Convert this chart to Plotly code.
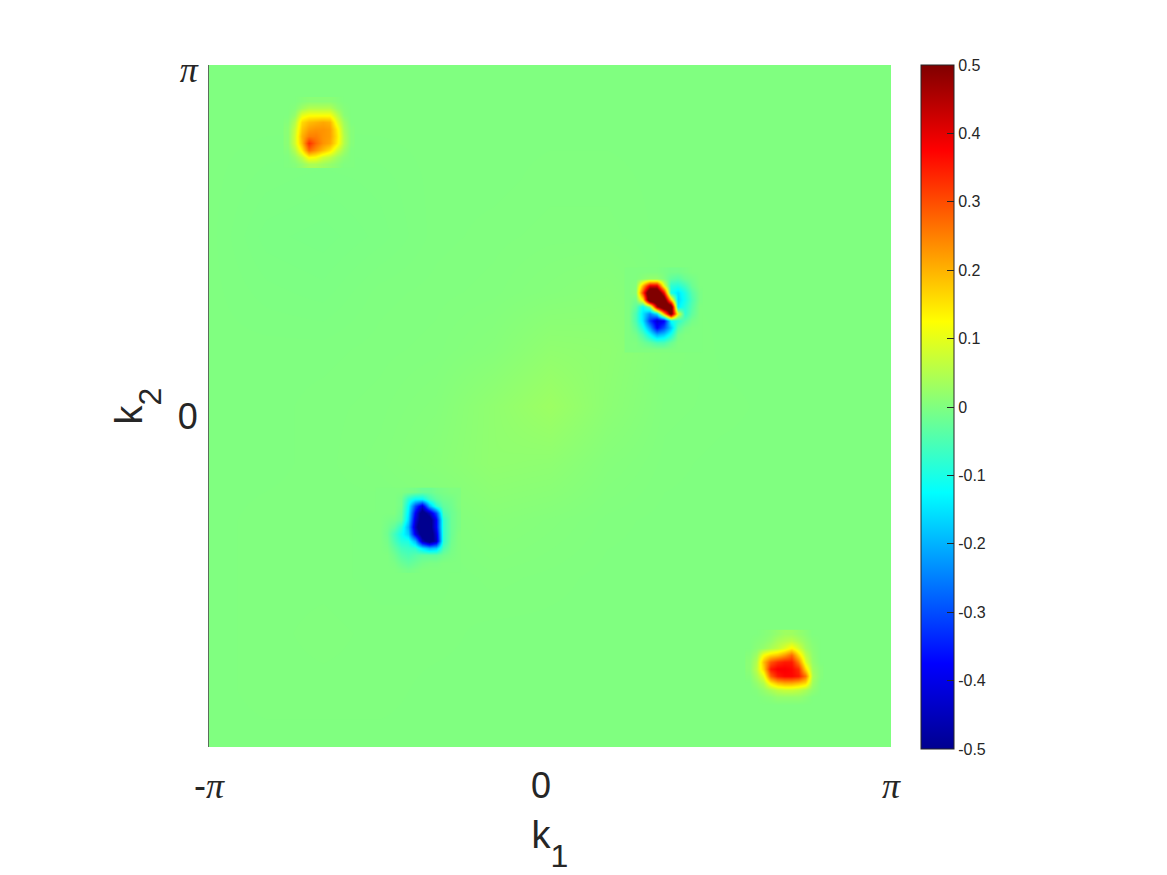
import numpy as np
import plotly.graph_objects as go

# Fine k-grid the local patches sit on (indices into this grid)
N_FINE = 97
BG_N = 13

# Coarse background field, rows listed top (k2=pi) to bottom (k2=-pi)
background = [
 [0,0,0,0,0,0,0,0,0,0,0,0,0],
 [0,0,0,0,0,0,0,0,0,0,0,0,0],
 [0,-.002,-.003,-.002,0,0,.001,.001,0,0,0,0,0],
 [0,-.004,-.005,-.003,0,.001,.002,.002,0,0,0,0,0],
 [0,-.002,-.003,0,.001,.002,.005,.008,0,0,0,0,0],
 [0,0,0,.001,.002,.006,.016,.014,.004,0,0,0,0],
 [0,0,.001,.002,.005,.016,.028,.012,.002,.001,0,0,0],
 [0,0,.001,.003,.008,.016,.014,.005,.001,0,0,0,0],
 [0,.001,.001,0,0,.007,.004,.001,0,0,0,0,0],
 [0,.001,.001,0,0,.002,.001,0,0,0,0,0,0],
 [0,.001,.002,.001,.001,0,0,0,0,0,0,0,0],
 [0,.001,.001,.001,0,0,0,0,0,0,0,0,0],
 [0,0,0,0,0,0,0,0,0,0,0,0,0],
]

# Local peaks: grid start index (column, top row) and values, top row first
patch_a_start = (11, 91)
patch_a = [
 [0,0,.005,.01,.01,.01,.01,.005,0,0],
 [0,.005,.03,.05,.05,.05,.05,.02,.005,0],
 [0,.02,.10,.12,.12,.12,.12,.06,.01,0],
 [.005,.05,.16,.19,.20,.21,.20,.10,.03,0],
 [.01,.07,.18,.22,.23,.23,.22,.14,.04,.005],
 [.01,.08,.20,.25,.25,.23,.22,.15,.05,.005],
 [.01,.08,.19,.33,.27,.23,.21,.14,.05,.005],
 [.005,.05,.14,.27,.23,.19,.15,.08,.03,0],
 [0,.02,.06,.13,.12,.08,.06,.03,.01,0],
 [0,.005,.02,.04,.04,.03,.02,.01,0,0],
]

patch_b_start = (59, 67)
patch_b = [
 [0,0,0,0,0,-.005,-.01,-.01,-.005,0,0],
 [0,0,.01,.02,.02,0,-.03,-.04,-.02,-.01,0],
 [0,.005,.2,.4,.4,.1,-.08,-.09,-.06,-.02,0],
 [0,.01,.32,.65,.65,.38,-.1,-.15,-.1,-.04,-.005],
 [0,-.01,.15,.65,.65,.6,.18,-.16,-.11,-.05,-.005],
 [0,-.03,-.12,0,.45,.65,.6,-.14,-.09,-.04,0],
 [0,-.05,-.15,-.24,-.15,.2,.55,.1,-.08,-.03,0],
 [0,-.05,-.15,-.32,-.42,-.38,-.12,-.08,-.04,-.01,0],
 [0,-.03,-.1,-.22,-.38,-.3,-.18,-.04,-.01,0,0],
 [0,-.01,-.05,-.12,-.2,-.17,-.1,-.01,0,0,0],
 [0,0,-.015,-.03,-.05,-.05,-.02,0,0,0,0],
 [0,0,0,0,0,0,0,0,0,0,0],
]

patch_c_start = (24, 36)
patch_c = [
 [0,0,0,0,-.005,-.01,-.02,-.02,-.01,-.005,0,0],
 [0,0,0,-.01,-.08,-.12,-.12,-.06,-.03,-.015,-.01,0],
 [0,0,0,-.01,-.12,-.3,-.42,-.2,-.08,-.03,-.015,0],
 [0,0,0,-.02,-.14,-.38,-.55,-.45,-.3,-.05,-.02,-.005],
 [0,-.005,-.01,-.03,-.16,-.42,-.55,-.55,-.38,-.08,-.02,-.005],
 [0,-.01,-.03,-.08,-.2,-.45,-.6,-.55,-.38,-.08,-.02,-.005],
 [0,-.015,-.06,-.11,-.17,-.4,-.55,-.58,-.42,-.08,-.02,0],
 [0,-.01,-.05,-.09,-.1,-.2,-.45,-.55,-.45,-.08,-.015,0],
 [0,-.005,-.03,-.06,-.07,-.08,-.15,-.2,-.18,-.05,-.01,0],
 [0,0,-.015,-.04,-.05,-.04,-.03,-.03,-.03,-.015,-.005,0],
 [0,0,-.005,-.02,-.03,-.02,-.01,-.005,-.005,0,0,0],
 [0,0,0,-.005,-.01,-.005,0,0,0,0,0,0],
]

patch_d_start = (76, 16)
patch_d = [
 [0,0,.005,.01,.02,.03,.03,.02,.01,0,0],
 [0,.005,.01,.02,.04,.05,.06,.04,.02,.005,0],
 [0,.01,.02,.04,.06,.09,.13,.08,.03,.01,0],
 [.005,.03,.12,.16,.18,.22,.27,.16,.06,.015,0],
 [.01,.05,.19,.29,.33,.35,.35,.25,.09,.02,0],
 [.01,.06,.17,.35,.38,.38,.37,.33,.16,.03,.005],
 [.005,.04,.1,.28,.35,.37,.37,.35,.26,.04,.005],
 [0,.02,.05,.14,.19,.21,.21,.19,.16,.03,0],
 [0,.005,.02,.04,.06,.07,.07,.06,.04,.015,0],
 [0,0,.005,.01,.02,.02,.02,.02,.01,0,0],
 [0,0,0,0,0,0,0,0,0,0,0],
]

cbar_ticks = [-.5,-.4,-.3,-.2,-.1,0,.1,.2,.3,.4,.5]
cbar_labels = ["-0.5","-0.4","-0.3","-0.2","-0.1","0","0.1","0.2","0.3","0.4","0.5"]
PI_LABEL = '<span style="font-family:\'Liberation Serif\'"><i>π</i></span>'
x_tick_vals = [-np.pi, -0.083, np.pi]
x_tick_text = ['-' + PI_LABEL, '0', PI_LABEL]
y_tick_vals = [-0.095, 3.1]
y_tick_text = ['0', PI_LABEL]

jet = [[0, 'rgb(0,0,143)'], [.125, 'rgb(0,0,255)'], [.375, 'rgb(0,255,255)'],
       [.5, 'rgb(128,255,128)'], [.625, 'rgb(255,255,0)'], [.875, 'rgb(255,0,0)'], [1, 'rgb(128,0,0)']]

k_fine = np.linspace(-np.pi, np.pi, N_FINE)
k_bg = np.linspace(-np.pi, np.pi, BG_N)

fig = go.Figure()
fig.add_trace(go.Heatmap(x=k_bg, y=k_bg, z=background[::-1], coloraxis='coloraxis',
                         zsmooth='best', hoverinfo='skip'))
for z, (c0, top) in [(patch_a, patch_a_start), (patch_b, patch_b_start),
                     (patch_c, patch_c_start), (patch_d, patch_d_start)]:
    rows = len(z)
    cols = len(z[0])
    fig.add_trace(go.Heatmap(x=k_fine[c0:c0 + cols], y=k_fine[top - rows + 1:top + 1],
                             z=z[::-1], coloraxis='coloraxis', zsmooth='best', hoverinfo='skip'))


def subscripted(base, sub):
    return (base + '<span style="font-size:90px"><sub><span style="font-size:32px">'
            + sub + '</span></sub></span>')


W, H = 1167, 875
L, R, T, B = 209, 891, 65, 747
INK = 'rgb(38,38,38)'
FONT = 'Liberation Sans'
fig.update_layout(
    width=W, height=H, autosize=False, margin=dict(l=0, r=0, t=0, b=0),
    paper_bgcolor='white', plot_bgcolor='white', showlegend=False,
    font=dict(family=FONT, color=INK),
    coloraxis=dict(
        colorscale=jet, cmin=-.5, cmax=.5,
        colorbar=dict(
            x=921 / W, xanchor='left', xpad=0, ypad=0, thickness=33, thicknessmode='pixels',
            len=684 / H, lenmode='fraction', y=1 - 407 / H, yanchor='middle',
            tickmode='array', tickvals=cbar_ticks, ticktext=cbar_labels, tickprefix='\u2009',
            ticks='inside', ticklen=7, tickwidth=1, tickcolor=INK,
            outlinewidth=1, outlinecolor=INK, tickfont=dict(size=16, family=FONT, color=INK),
        ),
    ),
    xaxis=dict(
        domain=[L / W, R / W], range=[-np.pi, np.pi], showgrid=False, zeroline=False,
        tickmode='array', tickvals=x_tick_vals, ticktext=x_tick_text, tickangle=0,
        ticks='inside', ticklen=7, tickwidth=1, tickcolor=INK, layer='below traces',
        ticklabelstandoff=14, tickfont=dict(size=36, family=FONT, color=INK),
        title=dict(text=subscripted('k', '1'), standoff=16,
                   font=dict(size=38, family=FONT, color=INK)),
        automargin=False,
    ),
    yaxis=dict(
        domain=[1 - B / H, 1 - T / H], range=[-np.pi, np.pi], showgrid=False, zeroline=False,
        tickmode='array', tickvals=y_tick_vals, ticktext=y_tick_text,
        ticks='', layer='below traces', showline=True, linecolor='rgb(90,110,90)', linewidth=1,
        ticklabelstandoff=3, tickfont=dict(size=36, family=FONT, color=INK),
        minor=dict(tickmode='array', tickvals=[np.pi], ticks='inside', ticklen=7, tickwidth=1, tickcolor=INK),
        title=dict(text=subscripted('k', '2'), standoff=23,
                   font=dict(size=38, family=FONT, color=INK)),
        automargin=False,
    ),
)
fig.write_html('out.html', post_script='document.body.style.margin="0";',
               config=dict(displayModeBar=False))
